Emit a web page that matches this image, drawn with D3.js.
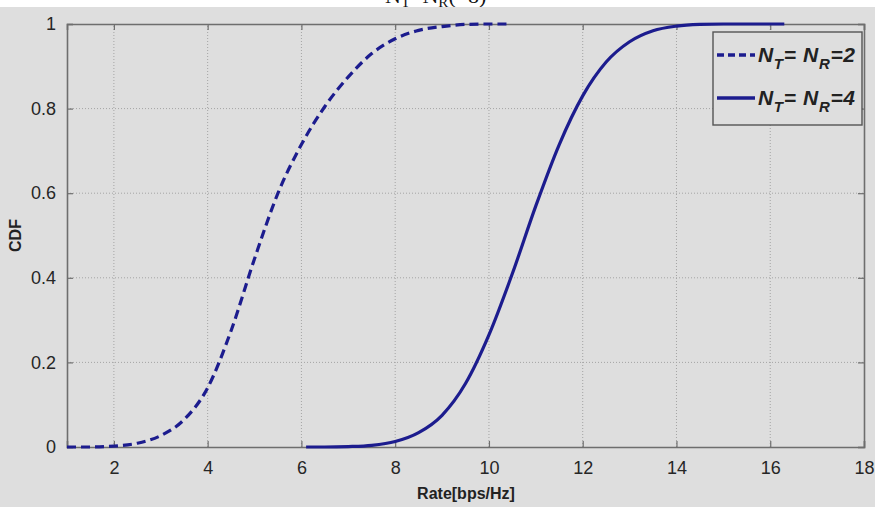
<!DOCTYPE html>
<html>
<head>
<meta charset="utf-8">
<script src="https://cdn.jsdelivr.net/npm/d3@7/dist/d3.min.js"></script>
<style>
  html, body { margin: 0; padding: 0; background: #ffffff; }
  svg { display: block; }
</style>
</head>
<body>
<svg id="chart" width="875" height="507"></svg>
<script>
// Rate CDF for two antenna configurations
const xTicks = [2, 4, 6, 8, 10, 12, 14, 16, 18];
const yTicks = [0, 0.2, 0.4, 0.6, 0.8, 1];
const yTickLabels = ["0", "0.2", "0.4", "0.6", "0.8", "1"];

// N_T = N_R = 2 (dashed)
const rate2 = [1.0, 1.5, 2.0, 2.5, 3.0, 3.5, 4.0, 4.5, 5.0, 5.5, 6.0, 6.5, 7.0, 7.5, 8.0, 8.5, 9.0, 9.5, 10.0, 10.4];
const cdf2  = [0, 0, 0.002, 0.009, 0.027, 0.065, 0.14, 0.275, 0.445, 0.6, 0.715, 0.805, 0.875, 0.93, 0.965, 0.985, 0.994, 0.999, 1, 1];

// N_T = N_R = 4 (solid)
const rate4 = [6.1, 6.5, 7.0, 7.5, 8.0, 8.5, 9.0, 9.5, 10.0, 10.5, 11.0, 11.5, 12.0, 12.5, 13.0, 13.5, 14.0, 14.5, 15.0, 16.3];
const cdf4  = [0, 0, 0.001, 0.004, 0.013, 0.034, 0.075, 0.15, 0.265, 0.41, 0.57, 0.715, 0.83, 0.91, 0.958, 0.984, 0.995, 0.999, 1, 1];

const seriesNames = ["= N", "=2", "=4"];

const svg = d3.select("#chart");
const W = 875, H = 507;
const m = { left: 67, right: 11, top: 24, bottom: 60 };

const x = d3.scaleLinear().domain([1, 18]).range([m.left, W - m.right]);
const y = d3.scaleLinear().domain([0, 1]).range([H - m.bottom, m.top]);

const lineColor = "#1c1c8e";
const axisColor = "#6e6e6e";
const font = "'Liberation Sans', Arial, sans-serif";

// figure background
svg.append("rect").attr("width", W).attr("height", H).attr("fill", "#dedede");
svg.append("rect").attr("width", W).attr("height", 7).attr("fill", "#ffffff");

// caption strip at the very top, only its lower edge shows
const clip = svg.append("defs").append("clipPath").attr("id", "topclip");
clip.append("rect").attr("x", 0).attr("y", 0).attr("width", W).attr("height", 7);
const cap = svg.append("text")
  .attr("clip-path", "url(#topclip)")
  .attr("x", 385).attr("y", 3)
  .attr("font-family", "'Liberation Serif', 'Times New Roman', serif")
  .attr("font-size", 22).attr("fill", "#111");
cap.append("tspan").text("N");
cap.append("tspan").attr("font-size", 15).attr("dy", 4).text("T");
cap.append("tspan").attr("dy", -4).text("=N");
cap.append("tspan").attr("font-size", 15).attr("dy", 4).text("R");
cap.append("tspan").attr("dy", -4).text("(=8)");

// dotted grid
const grid = svg.append("g");
grid.selectAll("line.gx").data(xTicks.filter(d => d < 18)).enter().append("line")
  .attr("x1", d => x(d)).attr("x2", d => x(d))
  .attr("y1", y(0)).attr("y2", y(1))
  .attr("stroke", "#a4a4a4").attr("stroke-width", 1).attr("stroke-dasharray", "1,2");
grid.selectAll("line.gy").data(yTicks.filter(d => d > 0 && d < 1)).enter().append("line")
  .attr("x1", x(1)).attr("x2", x(18))
  .attr("y1", d => y(d)).attr("y2", d => y(d))
  .attr("stroke", "#a4a4a4").attr("stroke-width", 1).attr("stroke-dasharray", "1,2");

// axes with inward ticks
const xAxisB = d3.axisBottom(x).tickValues(xTicks).tickSize(-6).tickPadding(14).tickFormat(d3.format("d"));
const xAxisT = d3.axisTop(x).tickValues(xTicks).tickSize(-6).tickFormat("");
const yAxisL = d3.axisLeft(y).tickValues(yTicks).tickSize(-6).tickPadding(11).tickFormat((d, i) => yTickLabels[i]);
const yAxisR = d3.axisRight(y).tickValues(yTicks).tickSize(-6).tickFormat("");

function styleAxis(g) {
  g.select(".domain").attr("stroke", axisColor).attr("stroke-width", 1.6);
  g.selectAll(".tick line").attr("stroke", axisColor).attr("stroke-width", 1.2);
  g.selectAll(".tick text").attr("fill", "#262626").attr("font-family", font).attr("font-size", 18);
}
svg.append("g").attr("transform", `translate(0,${y(0)})`).call(xAxisB).call(styleAxis);
svg.append("g").attr("transform", `translate(0,${y(1)})`).call(xAxisT).call(styleAxis);
svg.append("g").attr("transform", `translate(${x(1)},0)`).call(yAxisL).call(styleAxis);
svg.append("g").attr("transform", `translate(${x(18)},0)`).call(yAxisR).call(styleAxis);

// curves
const line = d3.line().x(d => x(d[0])).y(d => y(d[1])).curve(d3.curveMonotoneX);
const data2 = rate2.map((r, i) => [r, cdf2[i]]);
const data4 = rate4.map((r, i) => [r, cdf4[i]]);

svg.append("path").datum(data2).attr("d", line)
  .attr("fill", "none").attr("stroke", lineColor).attr("stroke-width", 3.2)
  .attr("stroke-dasharray", "9,5");
svg.append("path").datum(data4).attr("d", line)
  .attr("fill", "none").attr("stroke", lineColor).attr("stroke-width", 3.2);

// axis titles
svg.append("text")
  .attr("x", 466).attr("y", 499).attr("text-anchor", "middle")
  .attr("font-family", font).attr("font-weight", "bold").attr("font-size", 16).attr("fill", "#222")
  .text("Rate[bps/Hz]");
svg.append("text")
  .attr("transform", `translate(21,${(y(0) + y(1)) / 2}) rotate(-90)`)
  .attr("text-anchor", "middle")
  .attr("font-family", font).attr("font-weight", "bold").attr("font-size", 16).attr("fill", "#222")
  .text("CDF");

// legend
const lg = svg.append("g");
lg.append("rect").attr("x", 713).attr("y", 32).attr("width", 149).attr("height", 93)
  .attr("fill", "#dedede").attr("stroke", "#555").attr("stroke-width", 1.4);
const entries = [
  { yy: 55, dash: "7,4", last: seriesNames[1] },
  { yy: 98, dash: null, last: seriesNames[2] }
];
entries.forEach(e => {
  lg.append("line").attr("x1", 717).attr("x2", 755).attr("y1", e.yy).attr("y2", e.yy)
    .attr("stroke", lineColor).attr("stroke-width", 3.4)
    .attr("stroke-dasharray", e.dash);
  const t = lg.append("text").attr("x", 758).attr("y", e.yy + 7)
    .attr("font-family", font).attr("font-weight", "bold").attr("font-style", "italic")
    .attr("font-size", 21).attr("fill", "#222").attr("textLength", 97);
  t.append("tspan").text("N");
  t.append("tspan").attr("font-size", 15).attr("dy", 7).text("T");
  t.append("tspan").attr("dy", -7).text(seriesNames[0]);
  t.append("tspan").attr("font-size", 15).attr("dy", 7).text("R");
  t.append("tspan").attr("dy", -7).text(e.last);
});
</script>
</body>
</html>
